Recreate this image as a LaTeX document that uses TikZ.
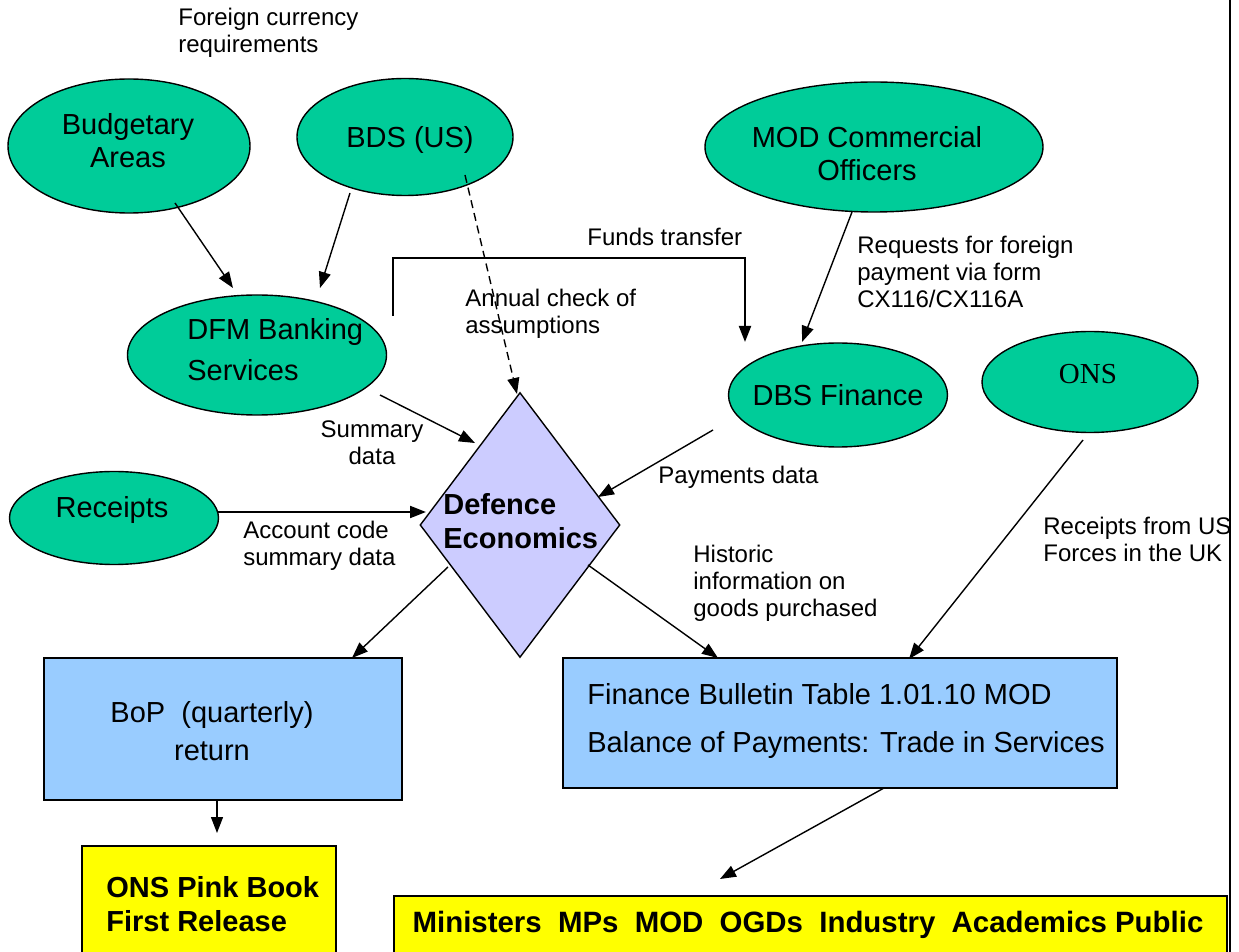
\documentclass[tikz,border=0pt]{standalone}
\usepackage{fontspec}
\setmainfont{Liberation Sans}
\newfontfamily\onsserif{Liberation Serif}
\usetikzlibrary{shapes.geometric,arrows.meta}
\definecolor{ovalgreen}{RGB}{0,204,153}
\definecolor{hubviolet}{RGB}{204,204,255}
\definecolor{outblue}{RGB}{153,204,255}
\definecolor{pubyellow}{RGB}{255,255,0}
\begin{document}
\begin{tikzpicture}[x=0.5pt,y=-0.5pt,
  oval/.style={ellipse, draw=black, line width=0.7pt, fill=ovalgreen, inner sep=0pt},
  big/.style={font=\fontsize{14.5}{16.5}\selectfont, align=center, inner sep=0pt},
  bigl/.style={font=\fontsize{14.5}{20.5}\selectfont, align=left, inner sep=0pt, anchor=west},
  bold/.style={font=\fontsize{14.5}{17}\selectfont\bfseries, align=left, inner sep=0pt, anchor=west},
  note/.style={font=\fontsize{12}{13.5}\selectfont, align=left, inner sep=0pt, anchor=west},
  arr/.style={-{Triangle[length=8pt,width=6pt]}, line width=0.7pt},
  outbox/.style={rectangle, draw=black, line width=1.3pt, fill=outblue, inner sep=0pt},
  pubbox/.style={rectangle, draw=black, line width=1.3pt, fill=pubyellow, inner sep=0pt}]
\useasboundingbox (0,0) rectangle (1239,952);
\fill[white] (0,0) rectangle (1239,952);

% right-hand frame line
\draw[line width=1pt] (1230,0) -- (1230,952);

% sources
\node[oval, minimum width=121pt, minimum height=67pt] (bud) at (129,146) {};
\node[big] (budt) at (128,141) {Budgetary\\Areas};
\node[oval, minimum width=108pt, minimum height=58.5pt] (bds) at (405,137) {};
\node[big] (bdst) at (410,140) {BDS (US)};
\node[oval, minimum width=169pt, minimum height=65pt] (mod) at (874,147) {};
\node[big] (modt) at (867,154) {MOD Commercial\\Officers};
\node[oval, minimum width=129.5pt, minimum height=60pt] (dfm) at (257,355) {};
\node[bigl] (dfmt) at (187,350) {DFM Banking\\Services};
\node[oval, minimum width=109.5pt, minimum height=52pt] (dbs) at (838,395) {};
\node[big] (dbst) at (838,395) {DBS Finance};
\node[oval, minimum width=108pt, minimum height=50.5pt] (ons) at (1090,382) {};
\node[inner sep=0pt, font=\onsserif\fontsize{14.5}{16}\selectfont] (onst) at (1088,374) {ONS};
\node[oval, minimum width=104.5pt, minimum height=46.5pt] (rec) at (114,518) {};
\node[big] (rect) at (112,510) {Receipts};

% hub
\node[diamond, draw=black, line width=0.7pt, fill=hubviolet, inner sep=0pt,
      minimum width=100pt, minimum height=132.5pt] (hub) at (520,525) {};
\node[bold] (hubt) at (443,521) {Defence\\Economics};

% outputs
\node[outbox, minimum width=179pt, minimum height=71pt] (bop) at (223,729) {};
\node[big, font=\fontsize{14.5}{19}\selectfont] (bopt) at (212,731) {BoP~~(quarterly)\\return};
\node[outbox, minimum width=277pt, minimum height=65pt] (fin) at (840,723) {};
\node[bigl, font=\fontsize{14.5}{24}\selectfont] (fint) at (587,721) {Finance Bulletin Table 1.01.10 MOD\\Balance of Payments: Trade in Services};
\node[pubbox, minimum width=127pt, minimum height=60pt] (pink) at (209,906) {};
\node[bold] (pinkt) at (106,904) {ONS Pink Book\\First Release};
\node[pubbox, minimum width=416.5pt, minimum height=32pt] (pub) at (810.5,928) {};
\node[bold, anchor=center, font=\fontsize{14.7}{17}\selectfont\bfseries] (pubt) at (808,925) {Ministers~~MPs~~MOD~~OGDs~~Industry~~Academics Public};

% connector labels
\node[note] (lfc) at (178,33) {Foreign currency\\requirements};
\node[note] (lft) at (587,237) {Funds transfer};
\node[note] (lac) at (465,314) {Annual check of\\assumptions};
\node[note] (lrq) at (857,272) {Requests for foreign\\payment via form\\CX116/CX116A};
\node[note, align=center, anchor=center] (lsd) at (372,443) {Summary\\data};
\node[note] (lpd) at (658,477) {Payments data};
\node[note] (lad) at (243,546) {Account code\\summary data};
\node[note] (lhi) at (693,583) {Historic\\information on\\goods purchased};
\node[note] (lus) at (1043,539) {Receipts from US\\Forces in the UK};

% connector ends
\coordinate (c1) at (175,203);  \coordinate (c2) at (233,288);
\coordinate (c3) at (350,193);  \coordinate (c4) at (320,288);
\coordinate (c5) at (465,175);  \coordinate (c6) at (517,394);
\coordinate (c7) at (393,316);  \coordinate (c8) at (745,342);
\coordinate (c9) at (852,212);  \coordinate (c10) at (802,342);
\coordinate (c11) at (380,395); \coordinate (c12) at (475,443);
\coordinate (c13) at (713,430); \coordinate (c14) at (598,497);
\coordinate (c15) at (218,512); \coordinate (c16) at (426,512);
\coordinate (c17) at (448,567); \coordinate (c18) at (352,658);
\coordinate (c19) at (588,565); \coordinate (c20) at (718,658);
\coordinate (c21) at (1083,440);\coordinate (c22) at (909,659);
\coordinate (c23) at (217,800); \coordinate (c24) at (217,833);
\coordinate (c25) at (884,788); \coordinate (c26) at (720,879);

% connectors
\draw[arr] (c1) -- (c2);
\draw[arr] (c3) -- (c4);
\draw[arr, dash pattern=on 4pt off 2.5pt] (c5) -- (c6);
\draw[arr, line width=1pt] (c7) |- (745,258) -- (c8);
\draw[arr] (c9) -- (c10);
\draw[arr] (c11) -- (c12);
\draw[arr] (c13) -- (c14);
\draw[arr, line width=1pt] (c15) -- (c16);
\draw[arr] (c17) -- (c18);
\draw[arr] (c19) -- (c20);
\draw[arr] (c21) -- (c22);
\draw[arr] (c23) -- (c24);
\draw[arr] (c25) -- (c26);
\end{tikzpicture}
\end{document}
